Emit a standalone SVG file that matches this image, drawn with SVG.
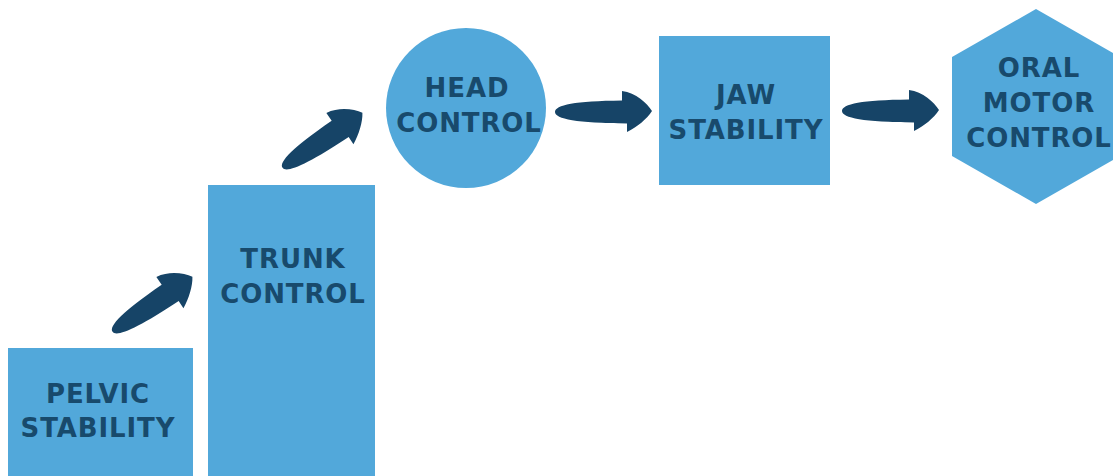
<svg xmlns="http://www.w3.org/2000/svg" width="1113" height="476" viewBox="0 0 1113 476">
<defs>
<style>
.node{fill:#52a8da;}
.lbl{font-family:"DejaVu Sans",sans-serif;font-weight:bold;font-size:26px;fill:#184a6c;text-anchor:middle;letter-spacing:0.9px;}
.arrow{fill:#164467;}
</style>
<path id="arr" d="M0,1 C0,-6 20,-10 67,-10.5 L67,-20 C81,-18 92,-8 97,0 C92,8 82,16 72,21 L72,12.5 C22,12 0,8 0,1 Z"/>
</defs>
<rect width="1113" height="476" fill="#ffffff"/>
<g id="pelvic">
<rect class="node" x="8" y="348" width="185" height="128"/>
<text class="lbl" x="98" y="403">PELVIC</text>
<text class="lbl" x="98" y="437">STABILITY</text>
</g>
<g id="trunk">
<rect class="node" x="208" y="185" width="167" height="291"/>
<text class="lbl" x="293" y="268">TRUNK</text>
<text class="lbl" x="293" y="303">CONTROL</text>
</g>
<g id="head">
<circle class="node" cx="466" cy="108" r="80"/>
<text class="lbl" x="467" y="97">HEAD</text>
<text class="lbl" x="469" y="132">CONTROL</text>
</g>
<g id="jaw">
<rect class="node" x="659" y="36" width="171" height="149"/>
<text class="lbl" x="746" y="104">JAW</text>
<text class="lbl" x="746" y="139">STABILITY</text>
</g>
<g id="oral">
<polygon class="node" points="1036,9 1120,57 1120,156 1036,204 952,156 952,57"/>
<text class="lbl" x="1039" y="77">ORAL</text>
<text class="lbl" x="1039" y="112">MOTOR</text>
<text class="lbl" x="1039" y="147">CONTROL</text>
</g>
<g id="connectors" class="arrow">
<use href="#arr" transform="translate(112,331) rotate(-34)"/>
<use href="#arr" transform="translate(282,167) rotate(-34)"/>
<use href="#arr" transform="translate(555,111)"/>
<use href="#arr" transform="translate(842,110)"/>
</g>
</svg>
